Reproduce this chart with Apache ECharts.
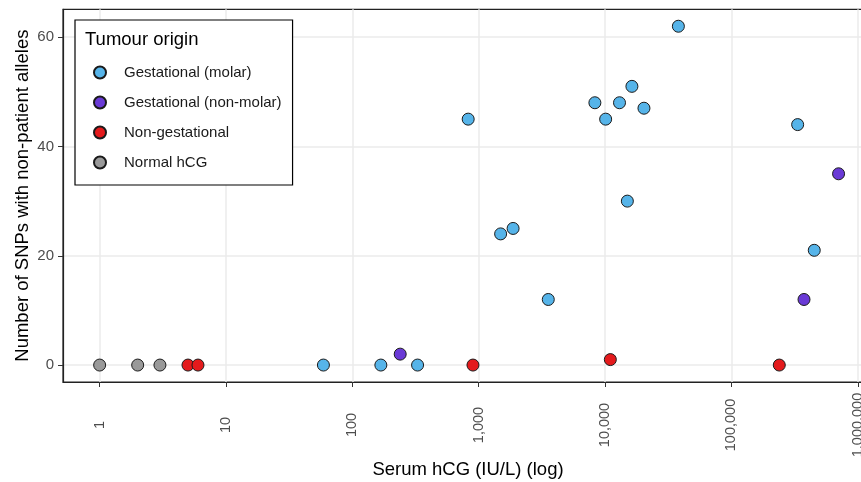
<!DOCTYPE html>
<html>
<head>
<meta charset="utf-8">
<script src="https://cdn.jsdelivr.net/npm/echarts@6/dist/echarts.min.js"></script>
<style>
html,body{margin:0;padding:0;background:#fff;}
#chart{width:861px;height:482px;}
</style>
</head>
<body>
<div id="chart"></div>
<script>
// ---- data ----
const seriesNames = ['Gestational (molar)', 'Gestational (non-molar)', 'Non-gestational', 'Normal hCG'];
const molarX = [59, 168, 328, 825, 8300, 10100, 13000, 16300, 20300, 38000, 334000, 15000, 1490, 1870, 3550, 452000];
const molarY = [0, 0, 0, 45, 48, 45, 48, 51, 47, 62, 44, 30, 24, 25, 12, 21];
const nonMolarX = [239, 375000, 704000];
const nonMolarY = [2, 12, 35];
const nonGestX = [5, 6, 900, 11000, 239000];
const nonGestY = [0, 0, 0, 1, 0];
const normalX = [1, 2, 3];
const normalY = [0, 0, 0];
const xTicks = [1, 10, 100, 1000, 10000, 100000, 1000000];
const yTicks = [0, 20, 40, 60];
const colors = ['#56B4E9', '#6A3AD6', '#E41A1C', '#999999'];

function zip(xs, ys) { return xs.map((x, i) => [x, ys[i]]); }
const allData = [zip(molarX, molarY), zip(nonMolarX, nonMolarY), zip(nonGestX, nonGestY), zip(normalX, normalY)];

const FONT = 'Liberation Sans, Arial, sans-serif';
const chart = echarts.init(document.getElementById('chart'), null, {renderer: 'canvas'});

const option = {
  animation: false,
  textStyle: {fontFamily: FONT},
  title: {
    text: 'Tumour origin',
    left: 85, top: 30, padding: 0,
    textStyle: {fontFamily: FONT, fontSize: 18.5, fontWeight: 'normal', color: '#000'}
  },
  legend: {
    orient: 'vertical',
    left: 75, top: 20,
    padding: [45, 11, 15, 18],
    itemWidth: 38, itemHeight: 12, itemGap: 15,
    borderColor: '#000', borderWidth: 1.2, backgroundColor: '#fff',
    icon: 'circle',
    textStyle: {fontFamily: FONT, fontSize: 15, color: '#1a1a1a'},
    data: seriesNames
  },
  grid: {
    left: 63, top: 9.3, right: -12, bottom: 100,
    outerBoundsMode: 'none', containLabel: false,
    show: true, borderColor: '#222', borderWidth: 1.2, backgroundColor: 'transparent'
  },
  xAxis: {
    type: 'log', logBase: 10,
    min: Math.pow(10, -0.29), max: Math.pow(10, 6.12),
    name: 'Serum hCG (IU/L) (log)',
    nameLocation: 'middle', nameGap: 78, nameMoveOverlap: false,
    nameTextStyle: {fontFamily: FONT, fontSize: 18.5, color: '#000'},
    axisLine: {show: true, onZero: false, lineStyle: {color: '#222', width: 1.2}},
    axisTick: {show: true, length: 5, customValues: xTicks, lineStyle: {color: '#333', width: 1}},
    axisLabel: {
      customValues: xTicks,
      rotate: 90, align: 'center', verticalAlign: 'middle', margin: 43,
      fontFamily: FONT, fontSize: 14.5, color: '#4d4d4d',
      formatter: v => Math.round(v).toLocaleString('en-US')
    },
    splitLine: {show: true, lineStyle: {color: '#ebebeb', width: 1.5}},
    minorSplitLine: {show: false}
  },
  yAxis: {
    type: 'value', min: -3.1, max: 65.1,
    name: 'Number of SNPs with non-patient alleles',
    nameLocation: 'middle', nameGap: 31, nameMoveOverlap: false,
    nameTextStyle: {fontFamily: FONT, fontSize: 18.5, color: '#000'},
    axisLine: {show: true, onZero: false, lineStyle: {color: '#222', width: 1.2}},
    axisTick: {show: true, length: 5, customValues: yTicks, lineStyle: {color: '#333', width: 1}},
    axisLabel: {customValues: yTicks, margin: 9, fontFamily: FONT, fontSize: 15, color: '#4d4d4d'},
    splitLine: {show: true, lineStyle: {color: '#ebebeb', width: 1.5}}
  },
  series: seriesNames.map((n, i) => ({
    name: n, type: 'scatter', symbol: 'circle', symbolSize: 12,
    itemStyle: {color: colors[i], borderColor: '#1a1a1a', borderWidth: 1, opacity: 1},
    emphasis: {disabled: true},
    data: allData[i],
    z: 3
  }))
};
chart.setOption(option);
</script>
</body>
</html>
